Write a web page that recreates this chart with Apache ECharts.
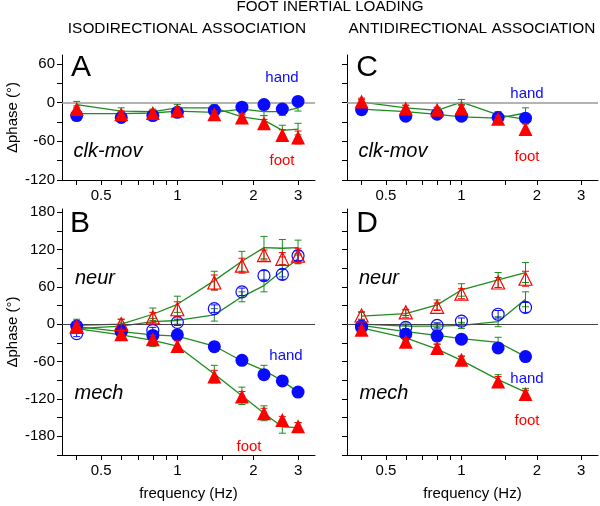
<!DOCTYPE html>
<html><head><meta charset="utf-8">
<script src="https://cdn.jsdelivr.net/npm/echarts@6/dist/echarts.min.js"></script>
<style>html,body{margin:0;padding:0;background:#fff}#c{width:600px;height:506px}</style>
</head><body><div id="c"></div>
<script>
// ---- data ----
const freqIso = [0.4, 0.6, 0.8, 1.0, 1.4, 1.8, 2.2, 2.6, 3.0];
const freqAnti = [0.4, 0.6, 0.8, 1.0, 1.4, 1.8];
const xTickValues = [0.4, 0.5, 0.6, 0.7, 0.8, 0.9, 1, 1.5, 2, 3];
const xLabelValues = [0.5, 1, 2, 3];
const yTicksTop = [-120, -90, -60, -30, 0, 30, 60];
const yLabelsTop = [-120, -60, 0, 60];
const yTicksBottom = [-210, -180, -150, -120, -90, -60, -30, 0, 30, 60, 90, 120, 150, 180];
const yLabelsBottom = [-180, -120, -60, 0, 60, 120, 180];

// Panel A (iso, clk-mov)
const A_hand = [-20, -23, -20, -15, -12, -7, -3, -10, 2];
const A_handErr = [4, 4, 4, 4, 4, 4, 4, 4, 6];
const A_handFit = [-17, -17, -16, -13, -15, -10, -14, -14, -8];
const A_handFitErr = [4, 4, 4, 4, 5, 5, 6, 6, 5];
const A_foot = [-10, -18, -16, -12, -18, -23, -32, -50, -54];
const A_footErr = [5, 5, 4, 4, 5, 5, 6, 8, 10];
const A_footFit = [-3, -13, -14, -8, -8, -22, -27, -43, -41];
const A_footFitErr = [5, 5, 4, 5, 5, 5, 7, 8, 9];

// Panel C (anti, clk-mov)
const C_hand = [-11, -21, -18, -21, -23, -24];
const C_handErr = [4, 4, 4, 4, 4, 4];
const C_handFit = [-10, -14, -18, -22, -24, -16];
const C_handFitErr = [4, 4, 4, 4, 7, 8];
const C_foot = [2, -9, -11, -9, -25, -41];
const C_footErr = [5, 5, 4, 5, 5, 8];
const C_footFit = [1, -8, -12, 1, -19, -26];
const C_footFitErr = [4, 4, 4, 4, 5, 5];

// Panel B (iso, neur / mech)
const B_handNeur = [-15, -12, -10, 3, 25, 52, 78, 80, 110];
const B_handNeurErr = [5, 5, 5, 5, 6, 6, 8, 8, 8];
const B_handNeurFit = [-7, -3, 4, 6, 15, 44, 62, 86, 105];
const B_handNeurFitErr = [6, 5, 5, 6, 10, 8, 10, 10, 8];
const B_footNeur = [-4, 0, 11, 24, 67, 94, 111, 105, 110];
const B_footNeurErr = [8, 8, 8, 12, 12, 12, 8, 10, 12];
const B_footNeurFit = [-2, 0, 16, 32, 70, 101, 123, 122, 123];
const B_footNeurFitErr = [10, 8, 10, 13, 15, 16, 18, 14, 12];
const B_handMech = [-3, -11, -18, -17, -36, -58, -81, -91, -109];
const B_handMechErr = [4, 4, 4, 4, 4, 4, 4, 4, 4];
const B_handMechFit = [-4, -12, -17, -19, -35, -59, -74, -91, -109];
const B_handMechFitErr = [5, 5, 5, 6, 6, 6, 8, 6, 5];
const B_footMech = [-4, -16, -24, -35, -84, -116, -143, -154, -164];
const B_footMechErr = [5, 5, 6, 8, 10, 8, 8, 6, 6];
const B_footMechFit = [-7, -17, -26, -35, -80, -115, -143, -165, -166];
const B_footMechFitErr = [8, 8, 10, 10, 14, 14, 12, 10, 8];

// Panel D (anti, neur / mech)
const D_handNeur = [-3, -5, -2, 5, 16, 27];
const D_handNeurErr = [4, 4, 4, 5, 6, 8];
const D_handNeurFit = [0, -3, -3, -2, 4, 40];
const D_handNeurFitErr = [5, 5, 5, 5, 8, 12];
const D_footNeur = [14, 19, 28, 49, 67, 73];
const D_footNeurErr = [6, 5, 6, 8, 8, 12];
const D_footNeurFit = [13, 17, 31, 55, 71, 83];
const D_footNeurFitErr = [6, 6, 8, 10, 12, 16];
const D_handMech = [-5, -16, -19, -24, -38, -52];
const D_handMechErr = [4, 4, 4, 4, 4, 4];
const D_handMechFit = [-2, -12, -18, -23, -29, -52];
const D_handMechFitErr = [5, 5, 5, 6, 8, 5];
const D_footMech = [-9, -28, -38, -57, -92, -112];
const D_footMechErr = [4, 5, 6, 6, 8, 6];
const D_footMechFit = [-6, -22, -40, -58, -89, -109];
const D_footMechFitErr = [5, 5, 8, 6, 8, 6];

// ---- styling ----
const FONT = 'Liberation Sans';
const BLUE = '#0a0aff';
const RED = '#ff0000';
const GREEN = '#1e8c1e';
const L = Math.log10;

const chart = echarts.init(document.getElementById('c'), null, {renderer: 'canvas'});

const grids = [
  {left: 62, top: 55, width: 253, height: 125},     // A
  {left: 347, top: 55, width: 251, height: 125},    // C
  {left: 62, top: 209, width: 253, height: 253.5},  // B
  {left: 347, top: 209, width: 251, height: 253.5}  // D
];

function xAxis(gi, named) {
  return {
    type: 'value', gridIndex: gi, min: L(0.35), max: L(3.5),
    axisLine: {show: true, onZero: false, lineStyle: {color: '#000', width: 1}},
    axisTick: {show: true, length: 5, customValues: xTickValues.map(L), lineStyle: {color: '#000'}},
    axisLabel: {show: true, customValues: xLabelValues.map(L), margin: 8,
      formatter: v => String(+Math.pow(10, v).toFixed(1)), fontSize: 15, color: '#000', fontFamily: FONT},
    splitLine: {show: false},
    name: named ? 'frequency (Hz)' : '', nameLocation: 'middle', nameGap: 31,
    nameTextStyle: {fontSize: 15, color: '#000', fontFamily: FONT}
  };
}
function yAxis(gi, top, labels) {
  return {
    type: 'value', gridIndex: gi,
    min: top ? -120 : -210, max: top ? 74 : 185,
    axisLine: {show: true, onZero: false, lineStyle: {color: '#000', width: 1}},
    axisTick: {show: true, length: 5, customValues: top ? yTicksTop : yTicksBottom, lineStyle: {color: '#000'}},
    axisLabel: {show: labels, customValues: top ? yLabelsTop : yLabelsBottom, margin: 7,
      fontSize: 15, color: '#000', fontFamily: FONT},
    splitLine: {show: false},
    name: labels ? 'Δphase (°)' : '', nameLocation: 'middle', nameGap: 42, nameRotate: 90,
    nameTextStyle: {fontSize: 15, color: '#000', fontFamily: FONT}
  };
}

function pts(fs, ys) { return fs.map((f, i) => [L(f), ys[i]]); }

function fitLine(gi, fs, ys, zeroColor) {
  const s = {
    type: 'line', xAxisIndex: gi, yAxisIndex: gi, data: pts(fs, ys),
    symbol: 'none', silent: true, z: 2,
    lineStyle: {color: GREEN, width: 1.3}
  };
  if (zeroColor) {
    s.markLine = {silent: true, symbol: 'none', label: {show: false},
      lineStyle: {color: zeroColor.c, width: zeroColor.w, type: 'solid'},
      data: [{yAxis: 0}]};
  }
  return s;
}
function errBars(gi, fs, ys, es, color, z) {
  return {
    type: 'custom', xAxisIndex: gi, yAxisIndex: gi, silent: true, z: z,
    data: fs.map((f, i) => [L(f), ys[i], es[i]]),
    encode: {x: 0, y: 1},
    renderItem(params, api) {
      const x = api.value(0), y = api.value(1), e = api.value(2);
      const t = api.coord([x, y + e]), b = api.coord([x, y - e]);
      const w = 3.5, st = {stroke: color, lineWidth: 1};
      return {type: 'group', children: [
        {type: 'line', shape: {x1: t[0], y1: t[1], x2: b[0], y2: b[1]}, style: st},
        {type: 'line', shape: {x1: t[0] - w, y1: t[1], x2: t[0] + w, y2: t[1]}, style: st},
        {type: 'line', shape: {x1: b[0] - w, y1: b[1], x2: b[0] + w, y2: b[1]}, style: st}
      ]};
    }
  };
}
function marks(gi, fs, ys, symbol, color, open, size, z) {
  return {
    type: 'scatter', xAxisIndex: gi, yAxisIndex: gi, data: pts(fs, ys), silent: true, z: z,
    symbol: symbol, symbolSize: size,
    itemStyle: open ? {color: 'rgba(0,0,0,0)', borderColor: color, borderWidth: 1.2, opacity: 1}
                    : {color: color, borderWidth: 0, opacity: 1}
  };
}

const series = [];
// Panel A (grid 0)
series.push(fitLine(0, freqIso, A_handFit, {c: '#9a9a9a', w: 1.5}));
series.push(fitLine(0, freqIso, A_footFit));
series.push(errBars(0, freqIso, A_handFit, A_handFitErr, GREEN, 3));
series.push(errBars(0, freqIso, A_footFit, A_footFitErr, GREEN, 3));
series.push(errBars(0, freqIso, A_hand, A_handErr, BLUE, 4));
series.push(marks(0, freqIso, A_hand, 'circle', BLUE, false, 13, 5));
series.push(errBars(0, freqIso, A_foot, A_footErr, RED, 6));
series.push(marks(0, freqIso, A_foot, 'triangle', RED, false, 14, 7));
// Panel C (grid 1)
series.push(fitLine(1, freqAnti, C_handFit, {c: '#9a9a9a', w: 1.5}));
series.push(fitLine(1, freqAnti, C_footFit));
series.push(errBars(1, freqAnti, C_handFit, C_handFitErr, GREEN, 3));
series.push(errBars(1, freqAnti, C_footFit, C_footFitErr, GREEN, 3));
series.push(errBars(1, freqAnti, C_hand, C_handErr, BLUE, 4));
series.push(marks(1, freqAnti, C_hand, 'circle', BLUE, false, 13, 5));
series.push(errBars(1, freqAnti, C_foot, C_footErr, RED, 6));
series.push(marks(1, freqAnti, C_foot, 'triangle', RED, false, 14, 7));
// Panel B (grid 2)
series.push(fitLine(2, freqIso, B_handNeurFit, {c: '#444', w: 1}));
series.push(fitLine(2, freqIso, B_footNeurFit));
series.push(fitLine(2, freqIso, B_handMechFit));
series.push(fitLine(2, freqIso, B_footMechFit));
series.push(errBars(2, freqIso, B_handNeurFit, B_handNeurFitErr, GREEN, 3));
series.push(errBars(2, freqIso, B_footNeurFit, B_footNeurFitErr, GREEN, 3));
series.push(errBars(2, freqIso, B_handMechFit, B_handMechFitErr, GREEN, 3));
series.push(errBars(2, freqIso, B_footMechFit, B_footMechFitErr, GREEN, 3));
series.push(errBars(2, freqIso, B_handNeur, B_handNeurErr, BLUE, 4));
series.push(marks(2, freqIso, B_handNeur, 'circle', BLUE, true, 12, 5));
series.push(errBars(2, freqIso, B_handMech, B_handMechErr, BLUE, 4));
series.push(marks(2, freqIso, B_handMech, 'circle', BLUE, false, 13, 5));
series.push(errBars(2, freqIso, B_footNeur, B_footNeurErr, RED, 6));
series.push(marks(2, freqIso, B_footNeur, 'triangle', RED, true, 13, 7));
series.push(errBars(2, freqIso, B_footMech, B_footMechErr, RED, 6));
series.push(marks(2, freqIso, B_footMech, 'triangle', RED, false, 14, 7));
// Panel D (grid 3)
series.push(fitLine(3, freqAnti, D_handNeurFit, {c: '#444', w: 1}));
series.push(fitLine(3, freqAnti, D_footNeurFit));
series.push(fitLine(3, freqAnti, D_handMechFit));
series.push(fitLine(3, freqAnti, D_footMechFit));
series.push(errBars(3, freqAnti, D_handNeurFit, D_handNeurFitErr, GREEN, 3));
series.push(errBars(3, freqAnti, D_footNeurFit, D_footNeurFitErr, GREEN, 3));
series.push(errBars(3, freqAnti, D_handMechFit, D_handMechFitErr, GREEN, 3));
series.push(errBars(3, freqAnti, D_footMechFit, D_footMechFitErr, GREEN, 3));
series.push(errBars(3, freqAnti, D_handNeur, D_handNeurErr, BLUE, 4));
series.push(marks(3, freqAnti, D_handNeur, 'circle', BLUE, true, 12, 5));
series.push(errBars(3, freqAnti, D_handMech, D_handMechErr, BLUE, 4));
series.push(marks(3, freqAnti, D_handMech, 'circle', BLUE, false, 13, 5));
series.push(errBars(3, freqAnti, D_footNeur, D_footNeurErr, RED, 6));
series.push(marks(3, freqAnti, D_footNeur, 'triangle', RED, true, 13, 7));
series.push(errBars(3, freqAnti, D_footMech, D_footMechErr, RED, 6));
series.push(marks(3, freqAnti, D_footMech, 'triangle', RED, false, 14, 7));

function txt(t, x, y, size, color, italic) {
  return {type: 'text', x: x, y: y, silent: true, z: 100,
    style: {text: t, fill: color || '#000', align: 'center', verticalAlign: 'middle',
      font: (italic ? 'italic ' : '') + size + 'px "' + FONT + '"'}};
}

chart.setOption({
  animation: false,
  textStyle: {fontFamily: FONT},
  grid: grids,
  xAxis: [xAxis(0, false), xAxis(1, false), xAxis(2, true), xAxis(3, true)],
  yAxis: [yAxis(0, true, true), yAxis(1, true, false), yAxis(2, false, true), yAxis(3, false, false)],
  series: series,
  graphic: [
    txt('FOOT INERTIAL LOADING', 330, 7, 15.2),
    txt('ISODIRECTIONAL ASSOCIATION', 187, 29, 15.4),
    txt('ANTIDIRECTIONAL ASSOCIATION', 472, 29, 15.4),
    txt('A', 81, 68, 30), txt('C', 367, 68, 30),
    txt('B', 80, 224, 30), txt('D', 367, 224, 30),
    txt('hand', 282, 78, 15, BLUE), txt('foot', 282, 161, 15, RED),
    txt('clk-mov', 108, 151, 20, '#000', true),
    txt('hand', 527, 94, 15, BLUE), txt('foot', 527, 157, 15, RED),
    txt('clk-mov', 393, 151, 20, '#000', true),
    txt('neur', 95, 278, 20, '#000', true), txt('mech', 99, 393, 20, '#000', true),
    txt('hand', 286, 356, 15, BLUE), txt('foot', 249, 447, 15, RED),
    txt('neur', 379, 278, 20, '#000', true), txt('mech', 384, 393, 20, '#000', true),
    txt('hand', 527, 379, 15, BLUE), txt('foot', 527, 421, 15, RED)
  ]
});
</script>
</body></html>
